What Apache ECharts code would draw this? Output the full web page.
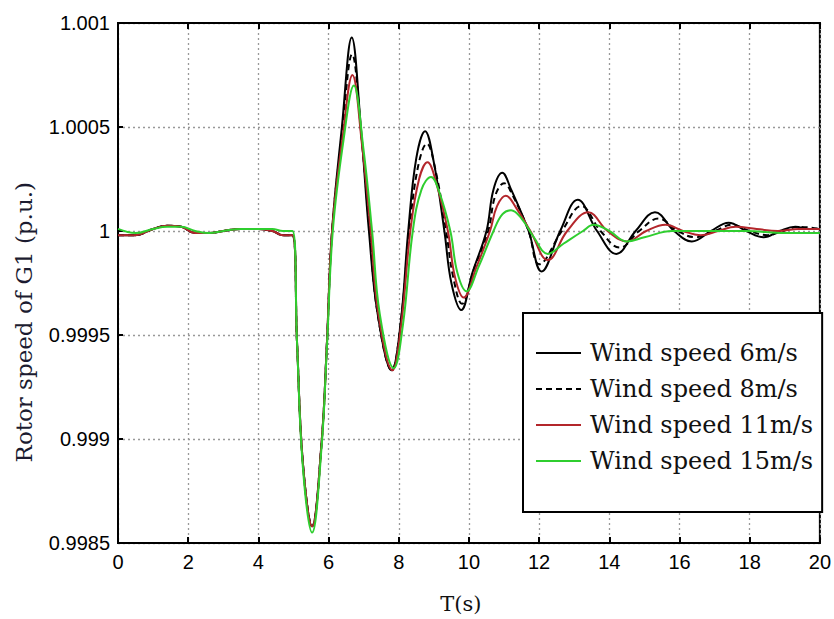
<!DOCTYPE html>
<html>
<head>
<meta charset="utf-8">
<script src="https://cdn.jsdelivr.net/npm/echarts@6/dist/echarts.min.js"></script>
<style>
html,body{margin:0;padding:0;background:#fff;}
#chart{width:834px;height:619px;}
</style>
</head>
<body>
<div id="chart"></div>
<script>
// ---- data ----
const seriesNames = ['Wind speed 6m/s', 'Wind speed 8m/s', 'Wind speed 11m/s', 'Wind speed 15m/s'];
const xTickLabels = ['0','2','4','6','8','10','12','14','16','18','20'];
const yTickLabels = ['0.9985','0.999','0.9995','1','1.0005','1.001'];
const yMin = 0.9985, yMax = 1.001, yStep = 0.0005;

const t6 = [0,0.5,1.0,1.4,1.8,2.2,2.6,3.0,3.5,4.0,4.4,4.7,4.97,5.1,5.27,5.53,5.8,5.95,6.1,6.38,6.66,6.92,7.15,7.4,7.8,8.05,8.27,8.5,8.75,9.0,9.3,9.5,9.78,10.1,10.5,10.7,10.95,11.2,11.7,12.07,12.6,13.1,13.65,14.2,14.75,15.3,15.85,16.35,16.9,17.4,17.9,18.4,18.85,19.3,19.7,20];
const v6 = [0.99998,0.99998,1.00001,1.000025,1.00002,0.99999,0.99999,1.0,1.00001,1.00001,1.0,0.99998,0.99998,0.99947,0.99888,0.99858,0.99898,0.99945,1.0,1.0005,1.00093,1.0005,1.0,0.9996,0.99933,0.99955,1.0,1.00035,1.00048,1.00033,1.0,0.99975,0.99962,0.9998,1.0,1.0002,1.00028,1.0002,1.0,0.999805,1.0,1.00015,1.0,0.99989,1.0,1.00009,1.0,0.99995,1.0,1.00004,1.0,0.99997,1.0,1.00002,1.00001,1.00001];

const t8 = [0,0.5,1.0,1.4,1.8,2.2,2.6,3.0,3.5,4.0,4.4,4.7,4.97,5.1,5.27,5.53,5.8,5.95,6.1,6.38,6.67,6.93,7.17,7.4,7.8,8.05,8.3,8.55,8.8,9.05,9.35,9.55,9.8,10.15,10.55,10.75,11.0,11.25,11.7,12.0,12.65,13.2,13.75,14.3,14.85,15.4,15.95,16.45,17.0,17.5,18.0,18.5,18.95,19.4,20];
const v8 = [0.99998,0.99998,1.00001,1.000025,1.00002,0.99999,0.99999,1.0,1.00001,1.00001,1.0,0.99998,0.99998,0.99947,0.99888,0.99858,0.99898,0.99945,1.0,1.00046,1.00085,1.00047,1.0,0.9996,0.99933,0.99955,1.0,1.00031,1.00042,1.00029,1.0,0.99978,0.99965,0.99982,1.0,1.00017,1.00023,1.00017,1.0,0.99984,1.0,1.00012,1.0,0.99992,1.0,1.00006,1.0,0.99997,1.0,1.00003,1.0,0.99998,1.0,1.00002,1.00001];

const t11 = [0,0.5,1.0,1.4,1.8,2.2,2.6,3.0,3.5,4.0,4.4,4.7,4.97,5.1,5.27,5.53,5.8,5.95,6.1,6.4,6.68,6.95,7.2,7.42,7.82,8.07,8.33,8.58,8.82,9.07,9.4,9.6,9.85,10.2,10.6,10.8,11.05,11.35,11.75,12.25,12.8,13.4,13.95,14.5,15.05,15.6,16.1,16.6,17.1,17.6,18.2,18.8,19.4,20];
const v11 = [0.99998,0.99998,1.00001,1.000025,1.00002,0.99999,0.99999,1.0,1.00001,1.00001,1.0,0.99998,0.99998,0.99947,0.99888,0.99858,0.99898,0.99945,1.0,1.00045,1.00075,1.00042,1.0,0.9996,0.99933,0.99955,1.0,1.00025,1.00033,1.00023,1.0,0.99978,0.99968,0.99982,1.0,1.00012,1.00017,1.00011,1.0,0.99986,1.0,1.00009,1.0,0.99995,1.0,1.00003,1.0,0.99998,1.0,1.00002,1.00001,1.0,1.00001,1.00001];

const t15 = [0,0.5,1.0,1.4,1.8,2.2,2.6,3.0,3.5,4.0,4.4,4.7,4.97,5.1,5.27,5.53,5.8,5.95,6.12,6.42,6.72,6.99,7.24,7.46,7.86,8.12,8.4,8.65,8.92,9.15,9.47,9.67,9.93,10.28,10.7,10.95,11.2,11.5,11.85,12.25,12.7,13.25,13.55,14.0,14.5,15.0,15.8,16.8,17.9,19.0,20];
const v15 = [1.00001,0.99999,1.00001,1.00002,1.00002,1.0,0.99999,1.0,1.00001,1.00001,1.00001,1.0,1.0,0.99947,0.99886,0.99855,0.99896,0.99943,1.0,1.00043,1.0007,1.0004,1.0,0.9996,0.99934,0.99955,1.0,1.0002,1.00026,1.00019,1.0,0.9998,0.99971,0.99983,1.0,1.00008,1.0001,1.00006,0.99997,0.99989,0.99994,1.0,1.00003,1.0,0.99995,0.99997,1.0,1.0,1.0,0.99999,0.99999];

const zip = (t, v) => t.map((x, i) => [x, v[i]]);

const chart = echarts.init(document.getElementById('chart'), null, {renderer: 'svg'});

const tickFont = {fontFamily: 'Liberation Sans, Arial, sans-serif', fontSize: 20, color: '#000'};
const gridLine = {show: true, lineStyle: {color: '#999999', type: [2, 3], width: 1.3}};

function lineSeries(name, data, color, type, z) {
  return {
    name: name, type: 'line', data: data, xAxisIndex: 0, yAxisIndex: 0,
    showSymbol: false, symbol: 'none', smooth: 0.4,
    lineStyle: {color: color, width: 2, type: type}, itemStyle: {color: color},
    z: z, animation: false
  };
}

chart.setOption({
  backgroundColor: '#ffffff',
  animation: false,
  grid: {left: 118, right: 12, top: 23, bottom: 72, show: true, borderColor: '#000', borderWidth: 2, backgroundColor: 'transparent'},
  xAxis: [{
    type: 'value', min: 0, max: 20, interval: 2,
    axisLine: {show: true, lineStyle: {color: '#000', width: 2}},
    axisTick: {show: true, inside: true, length: 6, lineStyle: {color: '#000', width: 2}},
    axisLabel: Object.assign({margin: 9, formatter: v => xTickLabels[Math.round(v / 2)]}, tickFont),
    splitLine: gridLine,
    name: 'T(s)', nameLocation: 'middle', nameGap: 50,
    nameTextStyle: {fontFamily: 'DejaVu Serif, serif', fontSize: 21, color: '#111', padding: [0, 16, 0, 0]}
  }, {
    type: 'value', min: 0, max: 20, interval: 2, position: 'top',
    axisLine: {show: true, lineStyle: {color: '#000', width: 2}},
    axisTick: {show: true, inside: true, length: 6, lineStyle: {color: '#000', width: 2}},
    axisLabel: {show: false}, splitLine: {show: false}
  }],
  yAxis: [{
    type: 'value', min: yMin, max: yMax, interval: yStep,
    axisLine: {show: true, lineStyle: {color: '#000', width: 2}},
    axisTick: {show: true, inside: true, length: 5, lineStyle: {color: '#000', width: 2}},
    axisLabel: Object.assign({margin: 8, formatter: v => yTickLabels[Math.round((v - yMin) / yStep)]}, tickFont),
    splitLine: gridLine
  }],
  legend: {
    orient: 'vertical', left: 523, top: 313,
    data: seriesNames,
    itemWidth: 45, itemHeight: 14, itemGap: 12,
    padding: [28, 9, 39, 12],
    borderColor: '#000', borderWidth: 2, backgroundColor: '#fff',
    itemStyle: {opacity: 0},
    textStyle: {fontFamily: 'DejaVu Serif, serif', fontSize: 24, color: '#111', lineHeight: 24, padding: [0, 0, 0, 4]},
    selectedMode: false
  },
  graphic: [{
    type: 'text', left: 12, top: 182, rotation: Math.PI / 2, z: 10,
    style: {text: 'Rotor speed of G1 (p.u.)', fontFamily: 'DejaVu Serif, serif', fontSize: 23, fill: '#1b1b30'}
  }],
  series: [
    lineSeries(seriesNames[0], zip(t6, v6), '#000000', 'solid', 3),
    lineSeries(seriesNames[1], zip(t8, v8), '#000000', [6, 4], 4),
    lineSeries(seriesNames[2], zip(t11, v11), '#b3262b', 'solid', 5),
    lineSeries(seriesNames[3], zip(t15, v15), '#2fce2f', 'solid', 6)
  ]
});
</script>
</body>
</html>
